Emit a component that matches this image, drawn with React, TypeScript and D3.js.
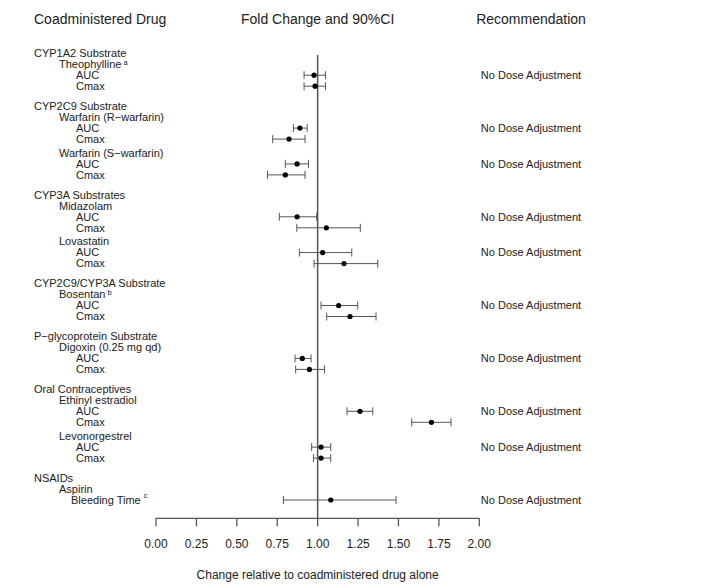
import React from "react";
import * as d3 from "d3";

// ---- data ----
const rowLabels = [
  "CYP1A2 Substrate", "Theophylline", "AUC", "Cmax",
  "CYP2C9 Substrate", "Warfarin (R\u2212warfarin)", "AUC", "Cmax",
  "Warfarin (S\u2212warfarin)", "AUC", "Cmax",
  "CYP3A Substrates", "Midazolam", "AUC", "Cmax",
  "Lovastatin", "AUC", "Cmax",
  "CYP2C9/CYP3A Substrate", "Bosentan", "AUC", "Cmax",
  "P\u2212glycoprotein Substrate", "Digoxin (0.25 mg qd)", "AUC", "Cmax",
  "Oral Contraceptives", "Ethinyl estradiol", "AUC", "Cmax",
  "Levonorgestrel", "AUC", "Cmax",
  "NSAIDs", "Aspirin", "Bleeding Time",
];
const rowKinds = [
  "group", "drug", "param", "param",
  "group", "drug", "param", "param",
  "drug", "param", "param",
  "group", "drug", "param", "param",
  "drug", "param", "param",
  "group", "drug", "param", "param",
  "group", "drug", "param", "param",
  "group", "drug", "param", "param",
  "drug", "param", "param",
  "group", "drug", "endpoint",
];
const rowNotes: Record<number, string> = { 1: "a", 19: "b", 35: "c" };

// estimates for each param/endpoint row, in order
const estimates = [0.978, 0.984, 0.89, 0.823, 0.873, 0.80, 0.873, 1.054, 1.031, 1.163, 1.13, 1.20, 0.905, 0.949, 1.262, 1.704, 1.021, 1.021, 1.081];
const lower =     [0.916, 0.916, 0.85, 0.722, 0.80, 0.69, 0.763, 0.871, 0.887, 0.978, 1.021, 1.056, 0.86, 0.864, 1.182, 1.582, 0.963, 0.974, 0.788];
const upper =     [1.048, 1.048, 0.935, 0.922, 0.943, 0.922, 0.994, 1.264, 1.211, 1.372, 1.248, 1.361, 0.959, 1.042, 1.341, 1.825, 1.081, 1.081, 1.485];
const recommendation = "No Dose Adjustment";
const xTicks = [0, 0.25, 0.5, 0.75, 1, 1.25, 1.5, 1.75, 2];
const headers = ["Coadministered Drug", "Fold Change and 90%CI", "Recommendation"];
const xTitle = "Change relative to coadministered drug alone";

export default function App() {
  const W = 705, H = 587;
  const x = d3.scaleLinear().domain([0, 2]).range([156, 479.3]);

  const step = 11;
  const groupGap = 8.9;
  const drugGap = 2.8;
  const firstY = 53.2;

  // compute row y positions
  const ys: number[] = [];
  rowKinds.forEach((k, i) => {
    if (i === 0) { ys.push(firstY); return; }
    let y = ys[i - 1] + step;
    if (k === "group") y += groupGap;
    else if (k === "drug" && rowKinds[i - 1] !== "group") y += drugGap;
    ys.push(y);
  });

  const indent: Record<string, number> = { group: 34, drug: 59, param: 76, endpoint: 71 };
  const textColor = "#222";
  const font = "'Liberation Sans', Arial, sans-serif";

  const pointRows = rowKinds.map((k, i) => (k === "param" || k === "endpoint" ? i : -1)).filter((i) => i >= 0);
  // recommendation rows: first measurement row after each drug
  const recRows = rowKinds
    .map((k, i) => (k === "drug" ? i + 1 : -1))
    .filter((i) => i >= 0)
    .map((i) => (rowKinds[i] === "param" || rowKinds[i] === "endpoint" ? i : i + 1));

  const axisY = 518.3;
  const refTop = 55;

  return (
    <svg width={W} height={H} style={{ position: "absolute", left: 0, top: 0, background: "#fff" }} fontFamily={font}>
      <rect width={W} height={H} fill="#fff" />
      {/* headers */}
      <text x={34} y={19} dy="0.35em" fontSize={14} fill={textColor}>{headers[0]}</text>
      <text x={x(1)} y={19} dy="0.35em" fontSize={14} fill={textColor} textAnchor="middle">{headers[1]}</text>
      <text x={531} y={19} dy="0.35em" fontSize={14} fill={textColor} textAnchor="middle">{headers[2]}</text>

      {/* row labels */}
      {rowLabels.map((lab, i) => {
        const note = rowNotes[i];
        return (
          <text key={i} x={indent[rowKinds[i]]} y={ys[i]} dy="0.35em" fontSize={11} fill={textColor}>
            {lab}
            {note && (
              <tspan fontSize={7.5} dx={note === "c" ? 3 : 2} dy={note === "c" ? -6 : -3}>{note}</tspan>
            )}
          </text>
        );
      })}

      {/* reference line */}
      <line x1={x(1)} x2={x(1)} y1={refTop} y2={axisY} stroke="#555" strokeWidth={1.5} />

      {/* CI bars and points */}
      {pointRows.map((r, j) => {
        const y = ys[r];
        return (
          <g key={r}>
            <line x1={x(lower[j])} x2={x(upper[j])} y1={y} y2={y} stroke="#555" strokeWidth={1} />
            <line x1={x(lower[j])} x2={x(lower[j])} y1={y - 4} y2={y + 4} stroke="#555" strokeWidth={1} />
            <line x1={x(upper[j])} x2={x(upper[j])} y1={y - 4} y2={y + 4} stroke="#555" strokeWidth={1} />
            <circle cx={x(estimates[j])} cy={y} r={2.6} fill="#000" />
          </g>
        );
      })}

      {/* recommendations */}
      {recRows.map((r) => (
        <text key={r} x={531} y={ys[r]} dy="0.35em" fontSize={11} fill={textColor} textAnchor="middle">
          {recommendation}
        </text>
      ))}

      {/* x axis */}
      <line x1={x(0)} x2={x(2)} y1={axisY} y2={axisY} stroke="#555" strokeWidth={1.3} />
      {xTicks.map((t) => (
        <g key={t}>
          <line x1={x(t)} x2={x(t)} y1={axisY} y2={axisY + 8} stroke="#555" strokeWidth={1.3} />
          <text x={x(t)} y={543.5} dy="0.35em" fontSize={12} fill={textColor} textAnchor="middle">
            {d3.format(".2f")(t)}
          </text>
        </g>
      ))}
      <text x={x(1)} y={575} dy="0.35em" fontSize={12} fill={textColor} textAnchor="middle">{xTitle}</text>
    </svg>
  );
}
